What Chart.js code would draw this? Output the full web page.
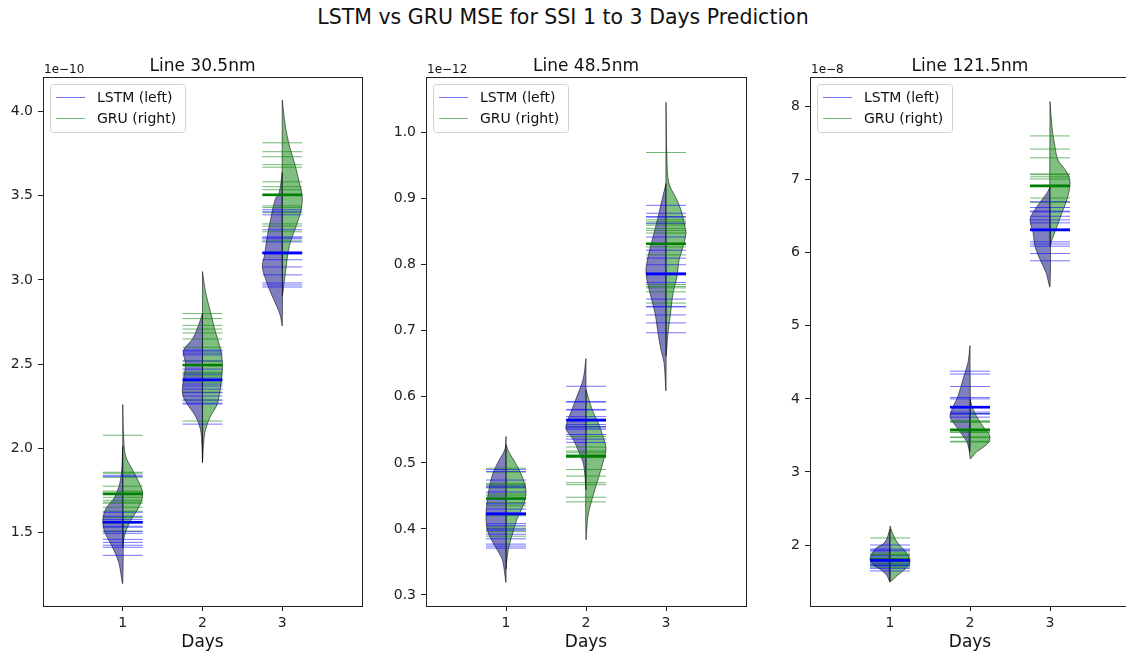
<!DOCTYPE html>
<html>
<head>
<meta charset="utf-8">
<title>LSTM vs GRU MSE</title>
<script src="https://cdn.jsdelivr.net/npm/chart.js@4.4.1/dist/chart.umd.min.js"></script>
<style>
  html, body { margin: 0; padding: 0; background: #fff; overflow: hidden; }
  body { width: 1126px; height: 655px; position: relative; font-family: 'DejaVu Sans', sans-serif; }
  #suptitle { position: absolute; left: 0; top: 7px; width: 1126px; text-align: center;
              font-size: 20.5px; line-height: 20.5px; color: #111; }
  .panel { position: absolute; top: 0; }
</style>
</head>
<body>
<div id="suptitle">LSTM vs GRU MSE for SSI 1 to 3 Days Prediction</div>
<canvas id="p0" class="panel"></canvas>
<canvas id="p1" class="panel"></canvas>
<canvas id="p2" class="panel"></canvas>

<script>
// ==============================
// DATA
// ==============================
const days = [1, 2, 3];
const panelTitles = ['Line 30.5nm', 'Line 48.5nm', 'Line 121.5nm'];
const offsetLabels = ['1e\u221210', '1e\u221212', '1e\u22128'];
const seriesNames = ['LSTM (left)', 'GRU (right)'];

// Line 30.5nm, MSE in units of 1e-10
const yTicks305 = [1.5, 2.0, 2.5, 3.0, 3.5, 4.0];
const lstmRuns305 = [
  [1.839, 1.832, 1.619, 1.595, 1.577, 1.565, 1.560, 1.536, 1.530, 1.506, 1.494, 1.458, 1.440, 1.423, 1.411, 1.363],
  [2.583, 2.577, 2.565, 2.554, 2.518, 2.470, 2.440, 2.417, 2.411, 2.381, 2.369, 2.351, 2.330, 2.310, 2.286, 2.268, 2.262, 2.143],
  [3.417, 3.405, 3.387, 3.298, 3.256, 3.250, 3.244, 3.226, 3.167, 3.155, 3.120, 3.077, 3.030, 2.982, 2.970, 2.958]
];
const gruRuns305 = [
  [2.077, 1.857, 1.851, 1.827, 1.774, 1.745, 1.738, 1.708, 1.690, 1.679, 1.673, 1.649, 1.625, 1.589, 1.554, 1.506],
  [2.800, 2.770, 2.730, 2.708, 2.685, 2.649, 2.600, 2.518, 2.490, 2.452, 2.446, 2.430, 2.393, 2.333, 2.286, 2.161],
  [3.815, 3.762, 3.732, 3.685, 3.670, 3.583, 3.554, 3.536, 3.500, 3.440, 3.430, 3.400, 3.333, 3.320, 3.286, 3.232]
];
const lstmMean305 = [1.560, 2.405, 3.160];
const gruMean305 = [1.728, 2.494, 3.506];
// violin outlines: [value, relative density]
const lstmShape305 = [
  [[2.01, 0], [1.82, 0.1], [1.71, 0.4], [1.64, 0.85], [1.57, 1], [1.50, 0.9], [1.42, 0.55], [1.32, 0.2], [1.20, 0]],
  [[2.80, 0], [2.73, 0.2], [2.65, 0.5], [2.58, 0.95], [2.50, 0.85], [2.41, 0.95], [2.32, 1], [2.25, 0.7], [2.19, 0.35], [2.11, 0.1], [2.02, 0.03], [1.92, 0]],
  [[3.64, 0], [3.52, 0.15], [3.48, 0.35], [3.38, 0.55], [3.26, 0.75], [3.14, 0.9], [3.08, 1], [3.01, 0.85], [2.93, 0.6], [2.85, 0.3], [2.79, 0.1], [2.73, 0]]
];
const gruShape305 = [
  [[2.26, 0], [2.05, 0.05], [1.95, 0.15], [1.88, 0.45], [1.80, 0.8], [1.73, 1], [1.66, 0.85], [1.58, 0.45], [1.52, 0.2], [1.46, 0.05], [1.41, 0]],
  [[3.05, 0], [2.93, 0.15], [2.81, 0.4], [2.69, 0.65], [2.59, 0.9], [2.50, 1], [2.41, 0.95], [2.32, 0.85], [2.25, 0.7], [2.19, 0.4], [2.11, 0.15], [2.02, 0.05], [1.92, 0]],
  [[4.07, 0], [3.92, 0.15], [3.80, 0.35], [3.68, 0.65], [3.58, 0.85], [3.50, 1], [3.42, 0.95], [3.32, 0.7], [3.24, 0.45], [3.17, 0.3], [3.08, 0.2], [2.99, 0.1], [2.91, 0]]
];

// Line 48.5nm, MSE in units of 1e-12
const yTicks485 = [0.3, 0.4, 0.5, 0.6, 0.7, 0.8, 0.9, 1.0];
const lstmRuns485 = [
  [0.490, 0.487, 0.474, 0.465, 0.463, 0.456, 0.445, 0.438, 0.430, 0.424, 0.421, 0.408, 0.405, 0.400, 0.398, 0.392, 0.385, 0.377, 0.374, 0.371],
  [0.616, 0.593, 0.592, 0.581, 0.580, 0.570, 0.566, 0.563, 0.558, 0.555, 0.553, 0.551, 0.543, 0.536, 0.531],
  [0.890, 0.878, 0.873, 0.872, 0.863, 0.842, 0.822, 0.810, 0.800, 0.788, 0.785, 0.773, 0.748, 0.737, 0.736, 0.724, 0.712, 0.697]
];
const gruRuns485 = [
  [0.492, 0.486, 0.469, 0.467, 0.465, 0.462, 0.453, 0.450, 0.446, 0.440, 0.435, 0.420, 0.403, 0.400, 0.396, 0.389],
  [0.555, 0.540, 0.524, 0.518, 0.516, 0.513, 0.511, 0.508, 0.490, 0.480, 0.470, 0.467, 0.448, 0.441],
  [0.970, 0.868, 0.865, 0.862, 0.860, 0.855, 0.852, 0.848, 0.831, 0.827, 0.815, 0.770, 0.767, 0.765, 0.759, 0.742]
];
const lstmMean485 = [0.423, 0.565, 0.786];
const gruMean485 = [0.446, 0.510, 0.832];
const lstmShape485 = [
  [[0.540, 0], [0.521, 0.05], [0.501, 0.4], [0.480, 0.7], [0.450, 0.9], [0.420, 1], [0.395, 0.9], [0.374, 0.55], [0.355, 0.2], [0.340, 0.1], [0.320, 0]],
  [[0.658, 0], [0.626, 0.15], [0.601, 0.45], [0.581, 0.7], [0.561, 0.95], [0.551, 1], [0.536, 0.65], [0.516, 0.35], [0.501, 0.15], [0.480, 0.05], [0.460, 0]],
  [[0.923, 0], [0.898, 0.2], [0.872, 0.4], [0.842, 0.65], [0.812, 0.9], [0.788, 1], [0.757, 0.8], [0.727, 0.55], [0.697, 0.4], [0.671, 0.25], [0.652, 0.1], [0.611, 0]]
];
const gruShape485 = [
  [[0.528, 0], [0.516, 0.15], [0.501, 0.45], [0.480, 0.8], [0.456, 1], [0.435, 0.85], [0.415, 0.55], [0.395, 0.35], [0.374, 0.15], [0.355, 0.05], [0.340, 0]],
  [[0.611, 0], [0.581, 0.3], [0.561, 0.6], [0.540, 0.85], [0.521, 1], [0.501, 0.85], [0.480, 0.65], [0.450, 0.35], [0.420, 0.1], [0.385, 0]],
  [[1.046, 0], [0.958, 0.05], [0.923, 0.15], [0.898, 0.55], [0.878, 0.8], [0.857, 0.95], [0.848, 1], [0.827, 0.85], [0.807, 0.65], [0.782, 0.55], [0.757, 0.35], [0.732, 0.25], [0.697, 0.1], [0.664, 0]]
];

// Line 121.5nm, MSE in units of 1e-8
const yTicks1215 = [2, 3, 4, 5, 6, 7, 8];
const lstmRuns1215 = [
  [2.00, 1.945, 1.93, 1.918, 1.85, 1.81, 1.78, 1.77, 1.74, 1.72, 1.71, 1.68, 1.645],
  [4.38, 4.34, 4.17, 4.02, 4.00, 3.90, 3.88, 3.82, 3.80, 3.79, 3.75],
  [6.70, 6.62, 6.57, 6.56, 6.50, 6.45, 6.41, 6.33, 6.31, 6.15, 6.12, 6.09, 5.99, 5.89]
];
const gruRuns1215 = [
  [2.096, 1.89, 1.87, 1.86, 1.82, 1.79, 1.78, 1.77, 1.75, 1.73, 1.72, 1.69],
  [3.80, 3.70, 3.69, 3.68, 3.59, 3.56, 3.54, 3.48, 3.47, 3.42, 3.41],
  [7.60, 7.42, 7.30, 7.08, 7.07, 7.04, 7.01, 6.93, 6.91, 6.75, 6.69]
];
const lstmMean1215 = [1.79, 3.885, 6.312];
const gruMean1215 = [1.80, 3.574, 6.914];
const lstmShape1215 = [
  [[2.22, 0], [2.04, 0.25], [1.945, 0.75], [1.85, 0.95], [1.81, 1], [1.73, 0.85], [1.67, 0.5], [1.58, 0.15], [1.495, 0]],
  [[4.73, 0], [4.50, 0.1], [4.27, 0.35], [4.04, 0.6], [3.86, 0.9], [3.76, 1], [3.68, 0.85], [3.59, 0.6], [3.49, 0.35], [3.41, 0.15], [3.28, 0]],
  [[6.90, 0], [6.82, 0.15], [6.69, 0.5], [6.55, 0.85], [6.45, 1], [6.28, 0.85], [6.09, 0.75], [5.91, 0.5], [5.73, 0.2], [5.54, 0]]
];
const gruShape1215 = [
  [[2.26, 0], [2.18, 0.1], [2.04, 0.35], [1.90, 0.8], [1.77, 1], [1.67, 0.75], [1.58, 0.35], [1.51, 0]],
  [[4.00, 0], [3.86, 0.15], [3.68, 0.5], [3.59, 0.75], [3.48, 1], [3.38, 0.85], [3.28, 0.35], [3.19, 0]],
  [[8.07, 0], [7.72, 0.1], [7.45, 0.25], [7.27, 0.4], [7.14, 0.75], [7.04, 0.95], [6.93, 1], [6.73, 0.85], [6.55, 0.6], [6.36, 0.35], [6.18, 0.1], [6.09, 0]]
];

// ==============================
// STYLE
// ==============================
const FONT = "'DejaVu Sans', sans-serif";
const INK = '#222';
const HALF = 0.25;                       // half width of a violin / run line
const LSTM_FILL = 'rgba(0, 0, 128, 0.5)';
const GRU_FILL = 'rgba(0, 128, 0, 0.5)';
const EDGE = 'rgba(0, 0, 0, 0.55)';
const LSTM_LINE = 'rgba(0, 0, 255, 0.55)';
const GRU_LINE = 'rgba(0, 128, 0, 0.55)';
const LSTM_MEAN = '#0000ff';
const GRU_MEAN = '#008000';

const panels = [
  { title: panelTitles[0], offset: offsetLabels[0], ticks: yTicks305, digits: 1, min: 1.062, max: 4.206,
    lstm: lstmRuns305, gru: gruRuns305, lstmMean: lstmMean305, gruMean: gruMean305,
    lstmShape: lstmShape305, gruShape: gruShape305, left: 43, right: 362 },
  { title: panelTitles[1], offset: offsetLabels[1], ticks: yTicks485, digits: 1, min: 0.2833, max: 1.0843,
    lstm: lstmRuns485, gru: gruRuns485, lstmMean: lstmMean485, gruMean: gruMean485,
    lstmShape: lstmShape485, gruShape: gruShape485, left: 426, right: 746 },
  { title: panelTitles[2], offset: offsetLabels[2], ticks: yTicks1215, digits: 0, min: 1.165, max: 8.4066,
    lstm: lstmRuns1215, gru: gruRuns1215, lstmMean: lstmMean1215, gruMean: gruMean1215,
    lstmShape: lstmShape1215, gruShape: gruShape1215, left: 810, right: 1130 }
];

const CANVAS_W = 380;
const CANVAS_H = 655;
const AREA_TOP = 77;
const AREA_BOTTOM = 606;
const YAXIS_W = 43;

// ==============================
// DATASETS
// ==============================
function violinHalf(shape, day, side, color) {
  const pts = shape.map(([v, w]) => ({ x: day + side * w * HALF, y: v }));
  pts.push(pts[0]);
  return {
    data: pts, showLine: true, fill: 'shape', tension: 0.35,
    backgroundColor: color, borderColor: EDGE, borderWidth: 1,
    pointRadius: 0, order: 3
  };
}

function runLine(value, day, color, width, order) {
  return {
    data: [{ x: day - HALF, y: value }, { x: day + HALF, y: value }],
    showLine: true, borderColor: color, borderWidth: width,
    pointRadius: 0, order: order
  };
}

function buildDatasets(p) {
  const sets = [];
  days.forEach((day, i) => {
    sets.push(violinHalf(p.lstmShape[i], day, -1, LSTM_FILL));
    sets.push(violinHalf(p.gruShape[i], day, 1, GRU_FILL));
    p.lstm[i].forEach(v => sets.push(runLine(v, day, LSTM_LINE, 1, 2)));
    p.gru[i].forEach(v => sets.push(runLine(v, day, GRU_LINE, 1, 2)));
    sets.push(runLine(p.lstmMean[i], day, LSTM_MEAN, 2.5, 1));
    sets.push(runLine(p.gruMean[i], day, GRU_MEAN, 2.5, 1));
  });
  return sets;
}

// frame, titles, offset text and legend
const decorPlugin = {
  id: 'decor',
  afterDraw(chart, args, opts) {
    const ctx = chart.ctx;
    const a = chart.chartArea;
    ctx.save();

    // spines
    ctx.strokeStyle = INK;
    ctx.lineWidth = 1;
    ctx.strokeRect(a.left + 0.5, a.top + 0.5, a.right - a.left, a.bottom - a.top);

    // panel title
    ctx.fillStyle = '#111';
    ctx.font = '17px ' + FONT;
    ctx.textAlign = 'center';
    ctx.textBaseline = 'alphabetic';
    ctx.fillText(opts.title, (a.left + a.right) / 2, a.top - 6);

    // offset text
    ctx.font = '12px ' + FONT;
    ctx.textAlign = 'left';
    ctx.fillText(opts.offset, a.left + 1, a.top - 4);

    // legend
    const bx = a.left + 7.5, by = a.top + 7.5, bw = 135, bh = 48;
    ctx.beginPath();
    ctx.roundRect(bx, by, bw, bh, 3);
    ctx.fillStyle = 'rgba(255, 255, 255, 0.8)';
    ctx.fill();
    ctx.strokeStyle = '#d4d4d4';
    ctx.stroke();

    const rows = [[seriesNames[0], LSTM_LINE, a.top + 20.5], [seriesNames[1], GRU_LINE, a.top + 41.5]];
    ctx.font = '14px ' + FONT;
    ctx.textBaseline = 'middle';
    rows.forEach(([label, color, y]) => {
      ctx.strokeStyle = color;
      ctx.lineWidth = 1;
      ctx.beginPath();
      ctx.moveTo(a.left + 13, y);
      ctx.lineTo(a.left + 42, y);
      ctx.stroke();
      ctx.fillStyle = '#111';
      ctx.fillText(label, a.left + 54, y + 1);
    });
    ctx.restore();
  }
};

function createPanel(p, idx) {
  const canvas = document.getElementById('p' + idx);
  canvas.width = CANVAS_W;
  canvas.height = CANVAS_H;
  canvas.style.left = (p.left - YAXIS_W) + 'px';
  const padRight = CANVAS_W - YAXIS_W - (p.right - p.left);

  const tickFont = { family: FONT, size: 14 };

  new Chart(canvas, {
    type: 'scatter',
    data: { datasets: buildDatasets(p) },
    options: {
      responsive: false,
      animation: false,
      events: [],
      layout: { padding: { top: AREA_TOP, right: padRight, left: 0, bottom: 0 } },
      plugins: {
        legend: { display: false },
        tooltip: { enabled: false },
        decor: { title: p.title, offset: p.offset }
      },
      scales: {
        x: {
          type: 'linear', min: 0, max: 4,
          afterBuildTicks: s => { s.ticks = days.map(d => ({ value: d })); },
          afterFit: s => { s.height = CANVAS_H - AREA_BOTTOM; },
          grid: { drawOnChartArea: false, drawTicks: true, tickLength: 5, color: INK },
          border: { display: false },
          ticks: { color: INK, font: tickFont, padding: 4, maxRotation: 0, autoSkip: false },
          title: { display: true, text: 'Days', color: '#111', font: { family: FONT, size: 17 },
                   padding: { top: 0, bottom: 2 } }
        },
        y: {
          type: 'linear', min: p.min, max: p.max,
          afterBuildTicks: s => { s.ticks = p.ticks.map(v => ({ value: v })); },
          afterFit: s => { s.width = YAXIS_W; },
          grid: { drawOnChartArea: false, drawTicks: true, tickLength: 5, color: INK },
          border: { display: false },
          ticks: { color: INK, font: tickFont, padding: 5, autoSkip: false,
                   callback: v => Number(v).toFixed(p.digits) }
        }
      }
    },
    plugins: [decorPlugin]
  });
}

panels.forEach(createPanel);
</script>
</body>
</html>
